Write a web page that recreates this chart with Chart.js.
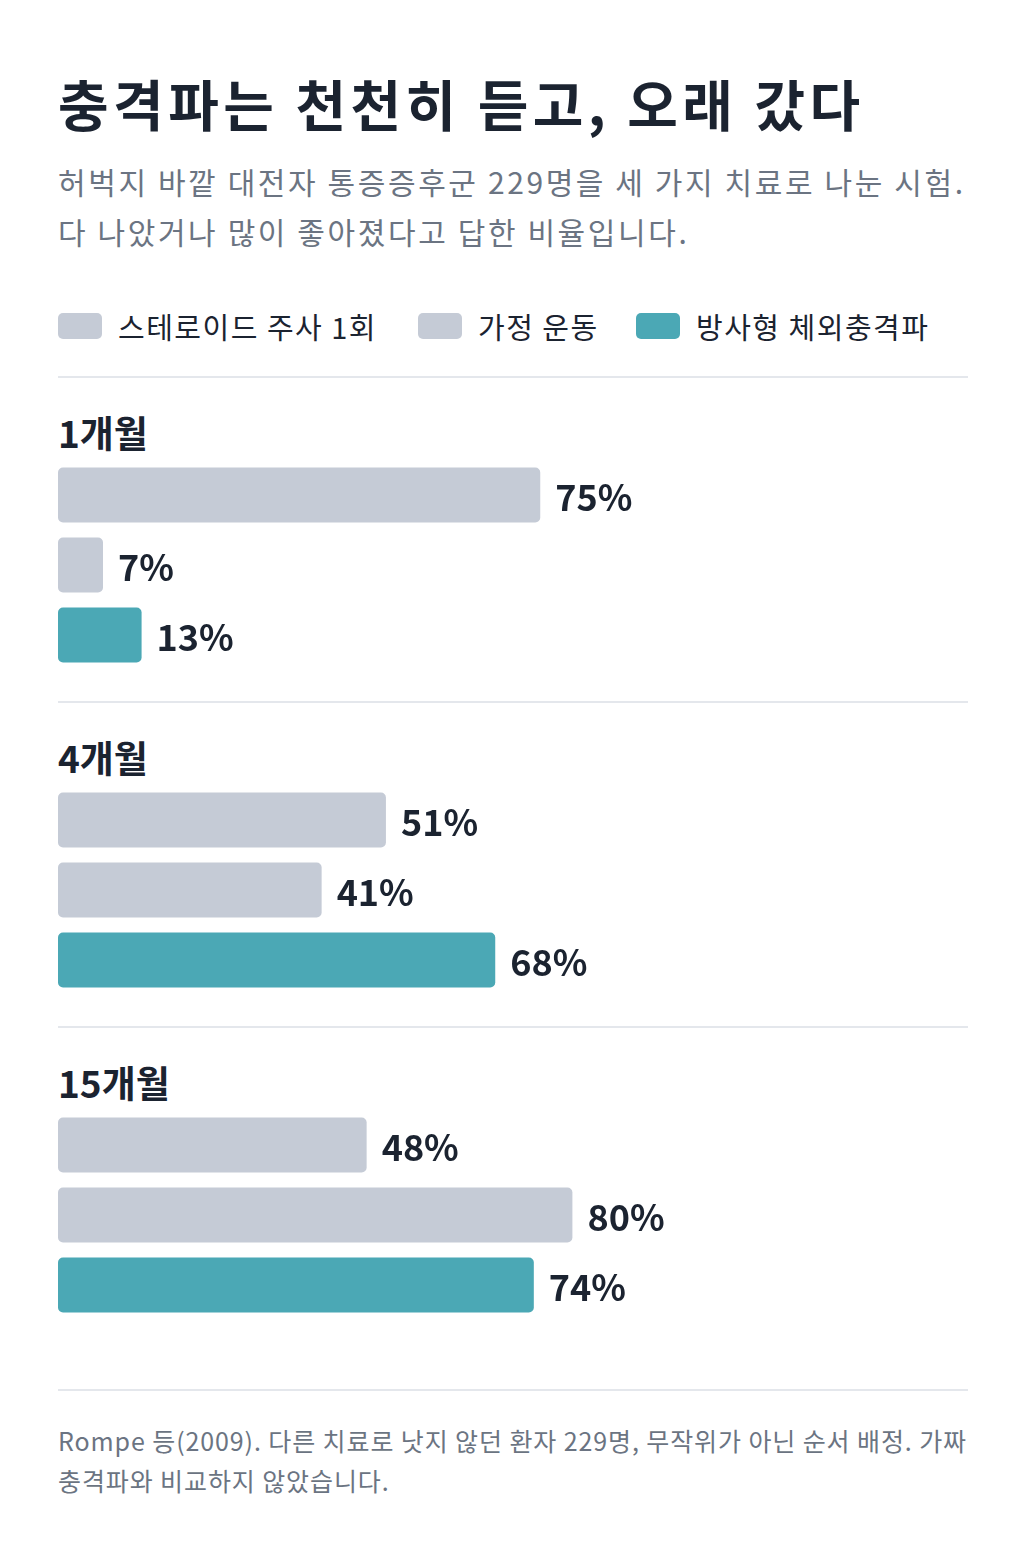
<!DOCTYPE html>
<html><head><meta charset="utf-8">
<script src="https://cdn.jsdelivr.net/npm/chart.js@4"></script>
<style>
body{margin:0;width:1024px;height:1545px;background:#fff;font-family:"Noto Sans CJK KR","Noto Sans",sans-serif;color:#1b2330;position:relative}
.abs{position:absolute}
h1{position:absolute;left:58px;top:62px;margin:0;font-size:55px;font-weight:700;letter-spacing:4.5px}
.sub{left:58px;top:156px;font-size:30px;line-height:50px;color:#6b7482;letter-spacing:2.6px}
.leg{top:305px;font-size:29px;display:flex;align-items:center;letter-spacing:1.5px}
.sw{width:44px;height:26px;border-radius:5px;margin-right:16px}
.rule{left:58px;width:910px;height:2px;background:#e4e7ec}
.grp{left:58px;font-size:37px;font-weight:700}
.note{left:58px;top:1420px;font-size:25px;line-height:40px;color:#6b7482;letter-spacing:0.9px}
</style></head><body>
<h1>충격파는 천천히 듣고, 오래 갔다</h1>
<div class="abs sub">허벅지 바깥 대전자 통증증후군 229명을 세 가지 치료로 나눈 시험.<br>다 나았거나 많이 좋아졌다고 답한 비율입니다.</div>
<div id="legend"></div>
<div class="abs rule" style="top:376px"></div>
<div class="abs rule" style="top:701px"></div>
<div class="abs rule" style="top:1026px"></div>
<div class="abs rule" style="top:1389px"></div>
<div id="groups"></div>
<div class="abs note">Rompe 등(2009). 다른 치료로 낫지 않던 환자 229명, 무작위가 아닌 순서 배정. 가짜<br>충격파와 비교하지 않았습니다.</div>
<script>
const months = ['1개월', '4개월', '15개월'];
const treatments = ['스테로이드 주사 1회', '가정 운동', '방사형 체외충격파'];
const steroid = [75, 51, 48];
const exercise = [7, 41, 80];
const shockwave = [13, 68, 74];
const colors = ['#c5cbd6', '#c5cbd6', '#4ba8b5'];

// legend
const legendX = [58, 418, 636];
let legendHtml = '';
for (let i = 0; i < treatments.length; i++) {
    legendHtml += `<div class="abs leg" style="left:${legendX[i]}px"><div class="sw" style="background:${colors[i]}"></div>${treatments[i]}</div>`;
}
document.getElementById('legend').innerHTML = legendHtml;

const valueLabels = {
    id: 'valueLabels',
    afterDatasetsDraw(chart) {
        const ctx = chart.ctx;
        const meta = chart.getDatasetMeta(0);
        ctx.save();
        ctx.font = 'bold 36px "Noto Sans CJK KR", sans-serif';
        ctx.fillStyle = '#1b2330';
        ctx.textBaseline = 'middle';
        meta.data.forEach((bar, i) => {
            ctx.fillText(chart.data.datasets[0].data[i] + '%', bar.x + 15, bar.y + 2);
        });
        ctx.restore();
    }
};

let groupsHtml = '';
for (let g = 0; g < months.length; g++) {
    let top = 377 + g * 325;
    groupsHtml += `<div class="abs grp" style="top:${top + 28}px">${months[g]}</div>`;
    groupsHtml += `<div class="abs" style="left:58px;top:${top + 83}px;width:910px;height:210px"><canvas id="c${g}"></canvas></div>`;
}
document.getElementById('groups').innerHTML = groupsHtml;

for (let g = 0; g < months.length; g++) {
    new Chart(document.getElementById('c' + g), {
        type: 'bar',
        data: {
            labels: treatments,
            datasets: [{
                data: [steroid[g], exercise[g], shockwave[g]],
                backgroundColor: colors,
                borderRadius: 5,
                borderSkipped: false,
                barPercentage: 55 / 70,
                categoryPercentage: 1
            }]
        },
        options: {
            indexAxis: 'y',
            responsive: true,
            maintainAspectRatio: false,
            animation: false,
            layout: { padding: 0 },
            plugins: { legend: { display: false }, tooltip: { enabled: false } },
            scales: {
                x: { display: false, min: 0, max: 910 / 6.43 },
                y: { display: false }
            }
        },
        plugins: [valueLabels]
    });
}
</script>
</body></html>
